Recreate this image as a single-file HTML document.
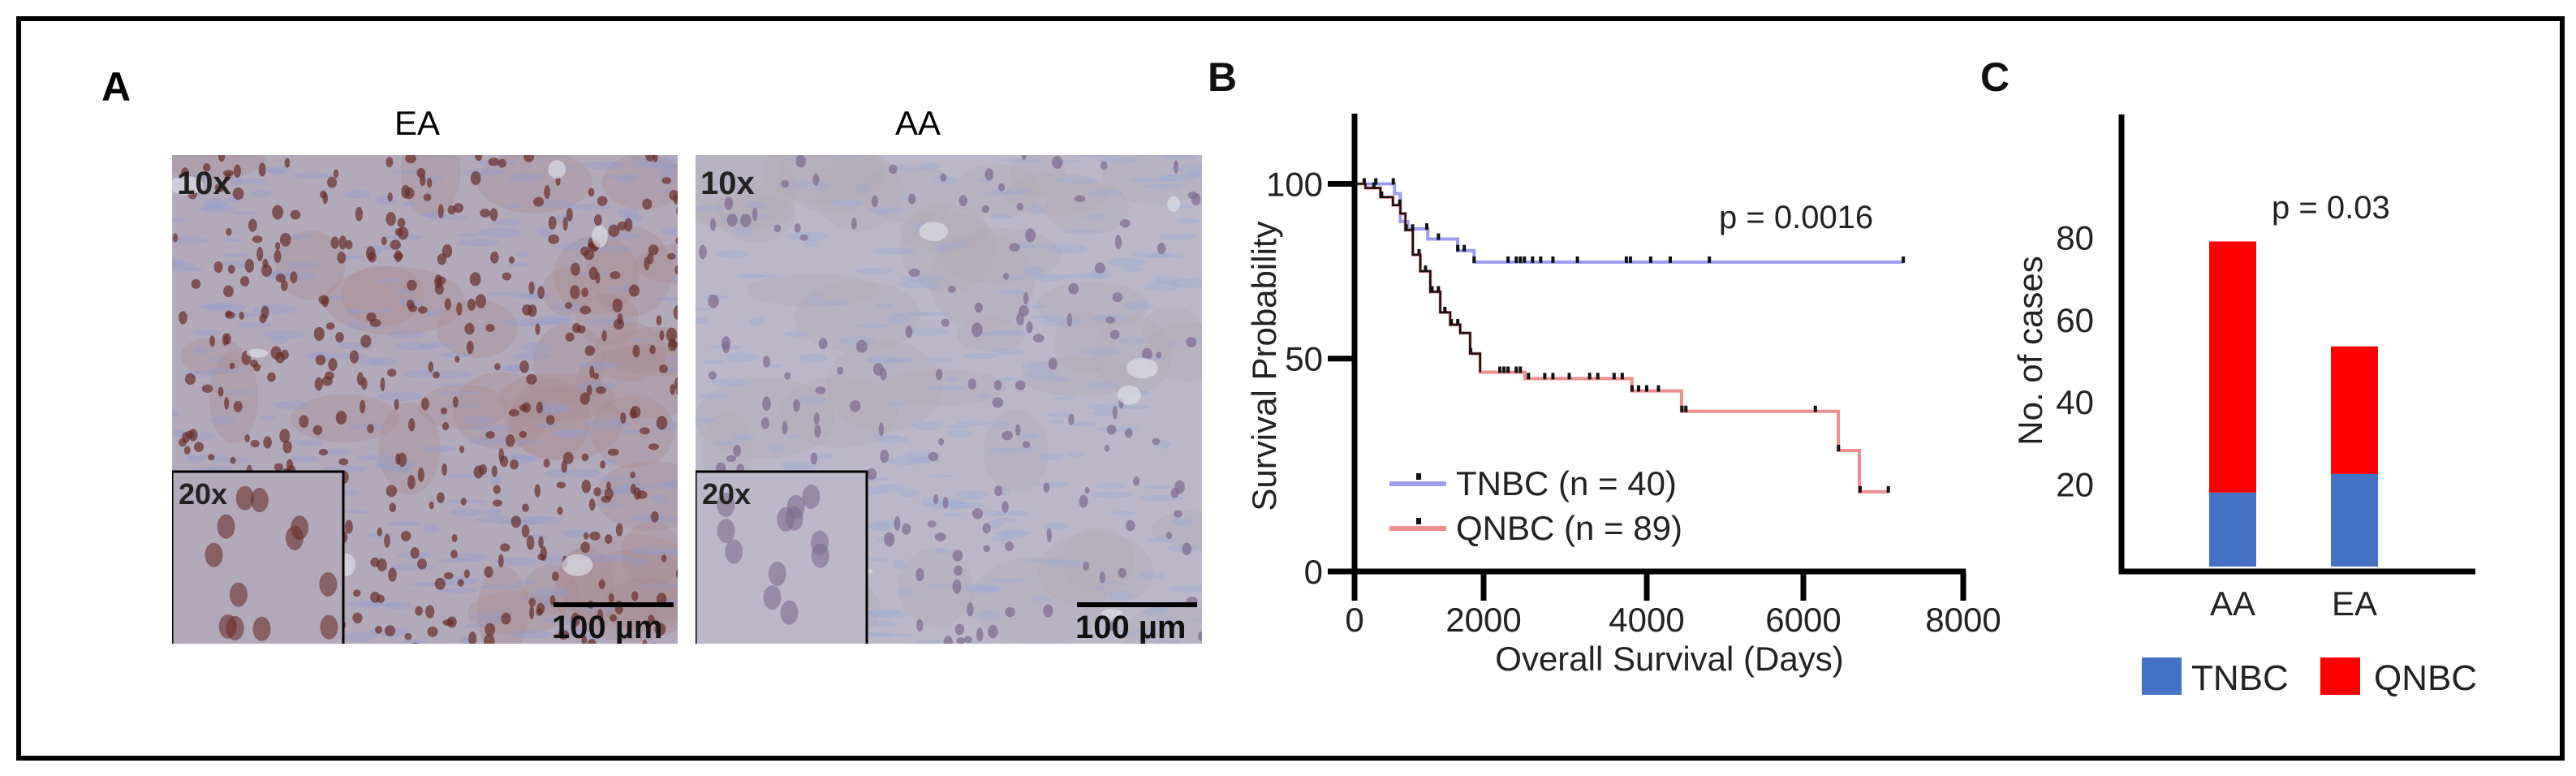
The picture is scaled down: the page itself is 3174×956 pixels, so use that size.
<!DOCTYPE html>
<html><head><meta charset="utf-8"><style>
body{margin:0;background:#fff;}
#root{position:relative;width:3174px;height:956px;overflow:hidden;background:#fff;font-family:"Liberation Sans",sans-serif;}
.frame{position:absolute;left:20px;top:20px;width:3128px;height:905px;border:6px solid #000;}
.lbl{position:absolute;font-family:"Liberation Sans",sans-serif;}
.img{position:absolute;overflow:hidden;}
</style></head><body>
<div id="root">
<div class="frame"></div>
<div class="lbl" style="left:125px;top:78px;font-size:50px;font-weight:bold;">A</div>
<div class="lbl" style="left:486px;top:128px;font-size:42px;">EA</div>
<div class="lbl" style="left:1103px;top:128px;font-size:42px;">AA</div>
<svg class="img" id="imgEA" style="left:212px;top:191px;" width="623" height="602"></svg>
<svg class="img" id="imgAA" style="left:857px;top:191px;" width="624" height="602"></svg>
<svg id="chartB" style="position:absolute;left:1480px;top:40px;" width="1000" height="820"></svg>
<svg id="chartC" style="position:absolute;left:2420px;top:40px;" width="740" height="840"></svg>
</div>
<script>
// ---------- Panel B data ----------
const tnbcDays=[0,618,710,826,1135,1598,1853,7250];
const tnbcSurv=[100,97.2,89.2,87.1,84.2,80.9,77.6,77.6];
const tnbcCensor=[330,600,1120,1300,1600,1700,1853,2300,2400,2450,2500,2600,2700,2850,3150,3750,3800,4050,4300,4800,7250];
const qnbcDays=[0,170,401,594,710,788,903,1019,1174,1328,1482,1637,1791,1946,2506,3818,4444,6438,6700,7063];
const qnbcSurv=[100,98.8,96.2,93.9,91.5,86.8,79.7,75,69.1,63.2,59.7,57.3,51.4,46.8,45.3,42.4,37.6,28.4,18.7,18.7];
const qnbcCensor=[150,300,420,700,800,900,1000,1100,1200,1300,1400,1500,1600,1800,2200,2250,2300,2400,2450,2550,2750,2850,3050,3300,3400,3600,3700,3820,3900,4000,4150,4450,4500,6150,6440,6710,7063];
const xTicksB=[0,2000,4000,6000,8000];
const yTicksB=[0,50,100];
// ---------- Panel C data ----------
const cats=['AA','EA'];
const tnbcCases=[18,22.5];
const qnbcCases=[61,31];
const yTicksC=[20,40,60,80];

const NS='http://www.w3.org/2000/svg';
function mk(parent,tag,attrs,name){const e=document.createElementNS(NS,tag);for(const k in attrs)e.setAttribute(k,attrs[k]);


parent.appendChild(e);return e;}
function txt(parent,x,y,s,size,anchor,name,extra){const t=mk(parent,'text',Object.assign({x:x,y:y,'font-size':size,'text-anchor':anchor||'start','font-family':'Liberation Sans, sans-serif',fill:'#222'},extra||{}),name);t.textContent=s;return t;}
function piecewise(dom,rng){return v=>{for(let i=0;i<dom.length-1;i++){if(v<=dom[i+1]||i===dom.length-2){return rng[i]+(v-dom[i])*(rng[i+1]-rng[i])/(dom[i+1]-dom[i]);}}};}

// ----- Chart B (origin 1480,40) -----
const B=document.getElementById('chartB');
const bx=piecewise(xTicksB,[189,348,549,742,939]);
const by=piecewise(yTicksB,[664,401.7,186.5]);
function stepPath(ds,ss){let d='M'+bx(ds[0])+','+by(ss[0]);for(let i=1;i<ds.length;i++){d+=' H'+bx(ds[i])+' V'+by(ss[i]);}return d;}
function survAt(ds,ss,t){let v=ss[0];for(let i=0;i<ds.length;i++){if(ds[i]<=t)v=ss[i];}return v;}
mk(B,'path',{d:stepPath(tnbcDays,tnbcSurv),fill:'none',stroke:'#9d9cf0','stroke-width':4},'tnbc-curve');
mk(B,'path',{d:stepPath(qnbcDays,qnbcSurv),fill:'none',stroke:'#f08d8d','stroke-width':4},'qnbc-curve');
mk(B,'path',{d:stepPath(qnbcDays.slice(0,14),qnbcSurv.slice(0,14)),fill:'none',stroke:'#111','stroke-width':2.5},'qnbc-early-overlay');
tnbcCensor.forEach(t=>{const x=bx(t),y=by(survAt(tnbcDays,tnbcSurv,t));
mk(B,'rect',{x:x-2,y:y-7,width:4,height:8,fill:'#111'},'tnbc-censor');});
qnbcCensor.forEach(t=>{const x=bx(t),y=by(survAt(qnbcDays,qnbcSurv,t));
mk(B,'rect',{x:x-2,y:y-7,width:4,height:8,fill:'#111'},'qnbc-censor');});
// axes
mk(B,'line',{x1:189,y1:100,x2:189,y2:668,stroke:'#000','stroke-width':7},'y-axis');
mk(B,'line',{x1:156,y1:664,x2:942,y2:664,stroke:'#000','stroke-width':7},'x-axis');
xTicksB.forEach(v=>{mk(B,'line',{x1:bx(v),y1:664,x2:bx(v),y2:700,stroke:'#000','stroke-width':7},'x-tick');
txt(B,bx(v),738,String(v),42,'middle','x-tick-label');});
yTicksB.forEach(v=>{mk(B,'line',{x1:156,y1:by(v),x2:189,y2:by(v),stroke:'#000','stroke-width':7},'y-tick');
txt(B,150,by(v)+15,String(v),42,'end','y-tick-label');});
txt(B,577,786,'Overall Survival (Days)',42,'middle','x-axis-title');
txt(B,92,411,'Survival Probability',42,'middle','y-axis-title',{transform:'rotate(-90 92 411)'});
txt(B,638,241,'p = 0.0016',40,'start','p-value-b');
txt(B,8,72,'B',50,'start','panel-b-label',{'font-weight':'bold',fill:'#111'});
mk(B,'line',{x1:232,y1:556,x2:302,y2:556,stroke:'#9d9cf0','stroke-width':6},'legend-tnbc-line');
mk(B,'rect',{x:265,y:543,width:6,height:8,fill:'#111'},'legend-tnbc-marker');
txt(B,314,570,'TNBC (n = 40)',42,'start','legend-tnbc-label');
mk(B,'line',{x1:232,y1:611,x2:302,y2:611,stroke:'#f08d8d','stroke-width':6},'legend-qnbc-line');
mk(B,'rect',{x:265,y:598,width:6,height:8,fill:'#111'},'legend-qnbc-marker');
txt(B,314,625,'QNBC (n = 89)',42,'start','legend-qnbc-label');

// ----- Chart C (origin 2420,40) -----
const C=document.getElementById('chartC');
const cy=v=>658-v*5.07;
const cxc=[331,481];
const bw=58;
cats.forEach((c,i)=>{
 mk(C,'rect',{x:cxc[i]-bw/2,y:cy(tnbcCases[i]),width:bw,height:cy(0)-cy(tnbcCases[i]),fill:'#4472c4'},'bar-tnbc-'+c.toLowerCase());
 mk(C,'rect',{x:cxc[i]-bw/2,y:cy(tnbcCases[i]+qnbcCases[i]),width:bw,height:cy(tnbcCases[i])-cy(tnbcCases[i]+qnbcCases[i]),fill:'#ff0000'},'bar-qnbc-'+c.toLowerCase());
 txt(C,cxc[i],718,c,42,'middle','x-category-label');
});
mk(C,'line',{x1:194,y1:101,x2:194,y2:667,stroke:'#000','stroke-width':7},'y-axis-c');
mk(C,'line',{x1:191,y1:664,x2:630,y2:664,stroke:'#000','stroke-width':7},'x-axis-c');
yTicksC.forEach(v=>{txt(C,160,cy(v)+15,String(v),42,'end','y-tick-label-c');});
txt(C,96,392,'No. of cases',42,'middle','y-axis-title-c',{transform:'rotate(-90 96 392)'});
txt(C,379,229,'p = 0.03',40,'start','p-value-c');
txt(C,20,72,'C',50,'start','panel-c-label',{'font-weight':'bold',fill:'#111'});
mk(C,'rect',{x:219,y:770,width:49,height:46,fill:'#4472c4'},'legend-tnbc-swatch');
txt(C,280,810,'TNBC',44,'start','legend-tnbc-text');
mk(C,'rect',{x:439,y:770,width:49,height:46,fill:'#ff0000'},'legend-qnbc-swatch');
txt(C,505,810,'QNBC',44,'start','legend-qnbc-text');

// ----- micrographs (decorative texture) -----
let seed=7;function rnd(){seed=(seed*16807)%2147483647;return seed/2147483647;}
function micro(id,base,stroma,nuc,nucCount,cellTone,name){
 const S=document.getElementById(id);
 mk(S,'rect',{x:0,y:0,width:640,height:610,fill:base},name+'-bg');
 for(let i=0;i<40;i++){mk(S,'ellipse',{cx:rnd()*640,cy:rnd()*610,rx:30+rnd()*60,ry:20+rnd()*40,fill:cellTone,opacity:0.35},name+'-cell-cluster');}
 for(let i=0;i<260;i++){mk(S,'ellipse',{cx:rnd()*640,cy:rnd()*610,rx:8+rnd()*20,ry:2+rnd()*4,fill:stroma,opacity:0.35},name+'-stroma');}
 for(let i=0;i<nucCount;i++){mk(S,'ellipse',{cx:rnd()*640,cy:rnd()*610,rx:3+rnd()*4,ry:4+rnd()*5,fill:nuc,opacity:0.7},name+'-nucleus');}
 for(let i=0;i<6;i++){mk(S,'ellipse',{cx:rnd()*640,cy:rnd()*610,rx:8+rnd()*20,ry:5+rnd()*10,fill:'#dcdde6',opacity:0.7},name+'-lumen');}
 mk(S,'rect',{x:0,y:390,width:211,height:215,fill:base,stroke:'#000','stroke-width':3},name+'-inset');
 for(let i=0;i<12;i++){mk(S,'ellipse',{cx:20+rnd()*180,cy:420+rnd()*170,rx:11,ry:15,fill:nuc,opacity:0.6},name+'-inset-nucleus');}
 txt(S,6,48,'10x',40,'start',name+'-mag-10x',{'font-weight':'bold',fill:'#222'});
 txt(S,8,430,'20x',36,'start',name+'-mag-20x',{'font-weight':'bold',fill:'#222'});
 mk(S,'rect',{x:470,y:551,width:148,height:6,fill:'#000'},name+'-scale-bar');
 txt(S,468,595,'100 µm',40,'start',name+'-scale-label',{'font-weight':'bold',fill:'#111'});
}
micro('imgEA','#b2a9bb','#8e9cd0','#6a2e2a',420,'#a88a8e','ea');
micro('imgAA','#bcb8c9','#9aa8d8','#7d6a8f',160,'#b2a8b4','aa');
</script>
</body></html>
